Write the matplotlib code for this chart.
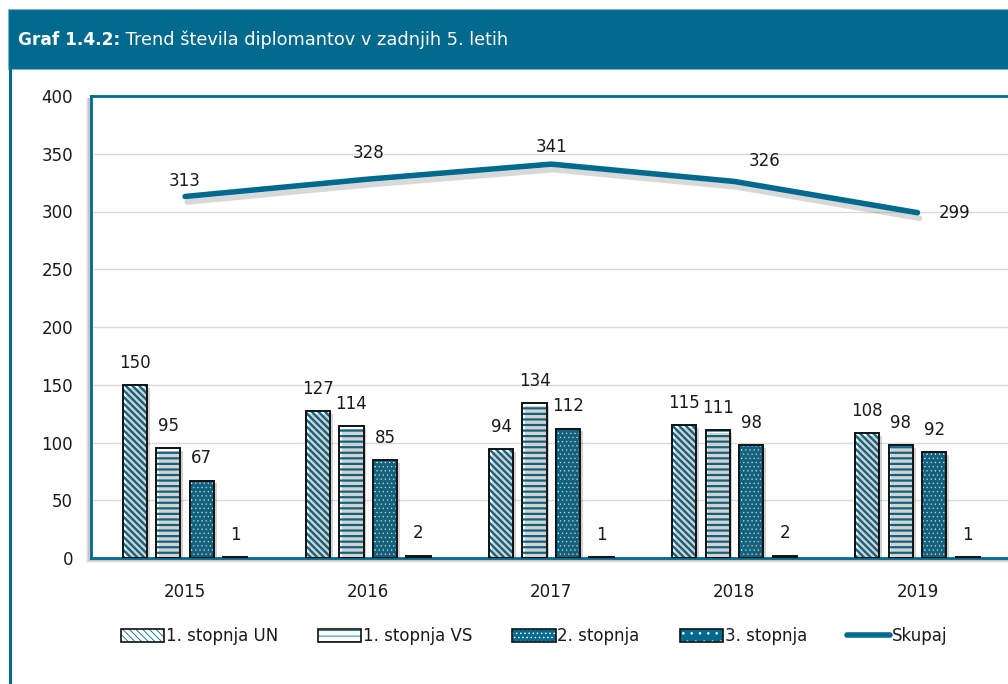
import matplotlib
matplotlib.use("Agg")
import matplotlib.pyplot as plt
import matplotlib.patches as mpatches
import matplotlib.patheffects as pe
from matplotlib.lines import Line2D
from matplotlib.legend_handler import HandlerTuple
import numpy as np

# ---- data ----
years = ["2015", "2016", "2017", "2018", "2019"]
stopnja_un = [150, 127, 94, 115, 108]
stopnja_vs = [95, 114, 134, 111, 98]
stopnja_2 = [67, 85, 112, 98, 92]
stopnja_3 = [1, 2, 1, 2, 1]
skupaj = [313, 328, 341, 326, 299]
series_names = ["1. stopnja UN", "1. stopnja VS", "2. stopnja", "3. stopnja"]
line_name = "Skupaj"
title_bold = "Graf 1.4.2:"
title_rest = " Trend števila diplomantov v zadnjih 5. letih"
yticks = [0, 50, 100, 150, 200, 250, 300, 350, 400]

# ---- style ----
TEAL = "#006A8E"
TXT = "#1a1a1a"
FONT = ["DejaVu Sans"]
FS = 12
plt.rcParams["font.family"] = FONT

W, H = 1008, 684
fig = plt.figure(figsize=(W / 100, H / 100), dpi=100)

def fx(px):
    return px / W

def fy(py):
    return 1 - py / H

# header band
fig.patches.append(mpatches.Rectangle((fx(8), fy(69)), fx(1100), fy(9) - fy(69),
                                      transform=fig.transFigure, facecolor=TEAL,
                                      edgecolor="#7FB3C9", lw=0.8, zorder=0))
# left frame line
fig.patches.append(mpatches.Rectangle((fx(8.5), 0), fx(3), fy(69),
                                      transform=fig.transFigure, facecolor=TEAL,
                                      edgecolor="none", zorder=0))

# plot area shadow
for i, a in enumerate([0.06, 0.08, 0.10]):
    d = 3 - i
    fig.patches.append(mpatches.Rectangle((fx(91 - 2 - d), fy(558 + 2 + d)),
                                          fx(1008 - 91 + 20), fy(98) - fy(558 + 2 + d),
                                          transform=fig.transFigure, facecolor="black",
                                          edgecolor="none", alpha=a, zorder=0.5))

ax = fig.add_axes([fx(91), fy(558), fx(1008) - fx(91) + 0.001, fy(96) - fy(558)])
ax.set_facecolor("white")
ax.set_zorder(1)

t1 = fig.text(fx(18), fy(40), title_bold, color="white", fontsize=12.2,
              fontweight="bold", va="center", ha="left")
ax.annotate(title_rest, xy=(1, 0.5), xycoords=t1, va="center", ha="left",
            color="white", fontsize=12.8, annotation_clip=False)

x = np.arange(len(years))
step = 0.183
width = 0.132
offsets = [-1.5 * step, -0.5 * step, 0.5 * step, 1.5 * step]
styles = [
    dict(facecolor="white", edgecolor=TEAL, hatch="\\" * 5),
    dict(facecolor="white", edgecolor=TEAL, hatch="---"),
    dict(facecolor=TEAL, edgecolor="white", hatch="...."),
    dict(facecolor=TEAL, edgecolor="white", hatch=".."),
]
hatch_lws = [1.7, 1.6, 0.4, 0.6]
all_series = [stopnja_un, stopnja_vs, stopnja_2, stopnja_3]
handles = []
for vals, off, st, hlw, name in zip(all_series, offsets, styles, hatch_lws, series_names):
    plt.rcParams["hatch.linewidth"] = hlw
    ax.bar(x + off, vals, width, linewidth=0, zorder=3, **st)
    h1 = mpatches.Patch(linewidth=0, **st)
    ax.bar(x + off, vals, width, fill=False, edgecolor="#111111", linewidth=1.4, zorder=4,
           path_effects=[pe.SimplePatchShadow(offset=(2, -2), alpha=0.25), pe.Normal()])
    for xi, v in zip(x + off, vals):
        ax.annotate(str(v), (xi, v), xytext=(0, 16), textcoords="offset points",
                    ha="center", va="center", fontsize=FS, color=TXT, zorder=6)
    h2 = mpatches.Patch(fill=False, edgecolor="#111111", linewidth=1.2)
    handles.append((h1, h2))

ax.plot(x, skupaj, color=TEAL, lw=4, solid_capstyle="round", zorder=5,
        path_effects=[pe.SimpleLineShadow(offset=(1.5, -4), alpha=0.3, shadow_color="gray"),
                      pe.Normal()])
line_label_offsets = [(0, 11), (0, 19), (0, 12), (22, 15), (27, 0)]
for xi, v, off in zip(x, skupaj, line_label_offsets):
    ax.annotate(str(v), (xi, v), xytext=off, textcoords="offset points",
                ha="center", va="center", fontsize=FS, color=TXT, zorder=6)

ax.set_xlim(-0.514, 4.5)
ax.set_ylim(0, 400)
ax.set_yticks(yticks)
ax.set_xticks(x)
ax.set_xticklabels(years)
ax.tick_params(axis="both", length=0, labelsize=FS, colors=TXT)
ax.tick_params(axis="y", pad=13)
ax.tick_params(axis="x", pad=18)
ax.grid(axis="y", color="#D9D9D9", lw=1, zorder=0)
ax.set_axisbelow(True)
for s in ["left", "top", "bottom"]:
    ax.spines[s].set_color(TEAL)
    ax.spines[s].set_linewidth(2)
ax.spines["right"].set_visible(False)

line_handle = Line2D([], [], color=TEAL, lw=4, solid_capstyle="round")
leg = fig.legend(handles + [line_handle], series_names + [line_name],
                 handler_map={tuple: HandlerTuple(ndivide=1, pad=0)},
                 loc="center", bbox_to_anchor=(fx(534), fy(636)), ncol=5,
                 frameon=False, fontsize=FS, handlelength=2.6, handleheight=0.8,
                 handletextpad=0.1, columnspacing=2.4)
for t in leg.get_texts():
    t.set_color(TXT)

fig.savefig("out.png", dpi=100)
